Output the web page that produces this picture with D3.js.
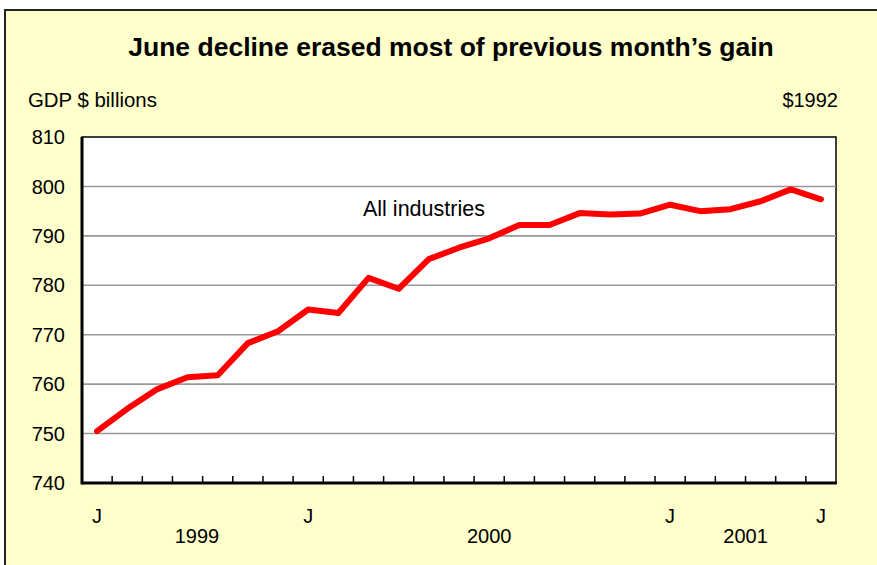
<!DOCTYPE html>
<html>
<head>
<meta charset="utf-8">
<script src="https://cdn.jsdelivr.net/npm/d3@7/dist/d3.min.js"></script>
<style>
  html, body { margin: 0; padding: 0; background: #fff; }
  svg { display: block; font-family: "Liberation Sans", Arial, sans-serif; }
</style>
</head>
<body>
<svg id="chart" width="877" height="565"></svg>
<script>
// ── data ────────────────────────────────────────────────────────────────
const months = [
  'Jun 1999', 'Jul 1999', 'Aug 1999', 'Sep 1999', 'Oct 1999', 'Nov 1999', 'Dec 1999',
  'Jan 2000', 'Feb 2000', 'Mar 2000', 'Apr 2000', 'May 2000', 'Jun 2000',
  'Jul 2000', 'Aug 2000', 'Sep 2000', 'Oct 2000', 'Nov 2000', 'Dec 2000',
  'Jan 2001', 'Feb 2001', 'Mar 2001', 'Apr 2001', 'May 2001', 'Jun 2001'
];
// GDP, all industries, $1992 billions
const gdp = [
  750.5, 755.0, 759.0, 761.4, 761.8, 768.3, 770.7,
  775.1, 774.4, 781.5, 779.3, 785.3, 787.6,
  789.5, 792.2, 792.2, 794.6, 794.3, 794.5,
  796.3, 795.0, 795.4, 797.0, 799.4, 797.4
];
const yTicks = [740, 750, 760, 770, 780, 790, 800, 810];
const monthLabels = { 'Jun 1999': 'J', 'Jan 2000': 'J', 'Jan 2001': 'J', 'Jun 2001': 'J' };
const years = ['1999', '2000', '2001'];

// ── layout ──────────────────────────────────────────────────────────────
const M = { left: 82, right: 836, top: 137, bottom: 483 };
const svg = d3.select('#chart');

// outer pale-yellow frame
svg.append('rect')
  .attr('x', 5).attr('y', 10).attr('width', 900).attr('height', 600)
  .attr('fill', '#ffffcc').attr('stroke', '#222').attr('stroke-width', 2);

const x = d3.scaleBand().domain(months).range([M.left, M.right]).padding(0);
const y = d3.scaleLinear().domain([740, 810]).range([M.bottom, M.top]);

// plot area
svg.append('rect')
  .attr('x', M.left).attr('y', M.top)
  .attr('width', M.right - M.left).attr('height', M.bottom - M.top)
  .attr('fill', '#fff').attr('stroke', '#000').attr('stroke-width', 1.5);

// gridlines
svg.append('g').selectAll('line')
  .data(yTicks.filter(v => v > 740 && v < 810)).join('line')
  .attr('x1', M.left).attr('x2', M.right)
  .attr('y1', d => y(d)).attr('y2', d => y(d))
  .attr('stroke', '#999').attr('stroke-width', 1.6);

// y tick labels
svg.append('g').selectAll('text')
  .data(yTicks).join('text')
  .attr('x', 65).attr('y', d => y(d)).attr('dy', '0.36em')
  .attr('text-anchor', 'end').attr('font-size', '20px').attr('fill', '#000')
  .text(d => d);

// axes lines (left, bottom)
svg.append('line')
  .attr('x1', M.left).attr('x2', M.left).attr('y1', M.top).attr('y2', M.bottom + 1.5)
  .attr('stroke', '#000').attr('stroke-width', 3);
svg.append('line')
  .attr('x1', M.left).attr('x2', M.right + 0.75).attr('y1', M.bottom).attr('y2', M.bottom)
  .attr('stroke', '#000').attr('stroke-width', 3);

// category boundary ticks (inside)
svg.append('g').selectAll('line')
  .data(months.slice(1)).join('line')
  .attr('x1', d => x(d)).attr('x2', d => x(d))
  .attr('y1', M.bottom).attr('y2', M.bottom - 7)
  .attr('stroke', '#000').attr('stroke-width', 1.5);

// month labels
const half = x.bandwidth() / 2;
svg.append('g').selectAll('text')
  .data(months.filter(m => monthLabels[m])).join('text')
  .attr('x', d => x(d) + half).attr('y', 523)
  .attr('text-anchor', 'middle').attr('font-size', '20px').attr('fill', '#000')
  .text(d => monthLabels[d]);

// year labels
const yearCentre = { '1999': 'Sep 1999', '2000': 'Jul 2000', '2001': 'Mar 2001' };
const yearShift = { '1999': 0.31, '2000': 0, '2001': 0.5 };
svg.append('g').selectAll('text')
  .data(years).join('text')
  .attr('x', d => x(yearCentre[d]) + half + yearShift[d] * x.bandwidth()).attr('y', 543)
  .attr('text-anchor', 'middle').attr('font-size', '20px').attr('fill', '#000')
  .text(d => d);

// the line
const line = d3.line()
  .x((d, i) => x(months[i]) + half)
  .y(d => y(d));
svg.append('path')
  .datum(gdp)
  .attr('d', line)
  .attr('fill', 'none').attr('stroke', '#ff0000').attr('stroke-width', 6)
  .attr('stroke-linejoin', 'round').attr('stroke-linecap', 'round');

// series label
svg.append('text')
  .attr('x', 363).attr('y', 216)
  .attr('font-size', '21.5px').attr('fill', '#000')
  .text('All industries');

// title & unit labels
svg.append('text')
  .attr('x', 451).attr('y', 56).attr('text-anchor', 'middle')
  .attr('font-size', '26.5px').attr('font-weight', 'bold').attr('fill', '#000')
  .text('June decline erased most of previous month\u2019s gain');
svg.append('text')
  .attr('x', 28).attr('y', 107)
  .attr('font-size', '20.4px').attr('fill', '#000')
  .text('GDP $ billions');
svg.append('text')
  .attr('x', 838).attr('y', 107).attr('text-anchor', 'end')
  .attr('font-size', '20px').attr('fill', '#000')
  .text('$1992');
</script>
</body>
</html>
